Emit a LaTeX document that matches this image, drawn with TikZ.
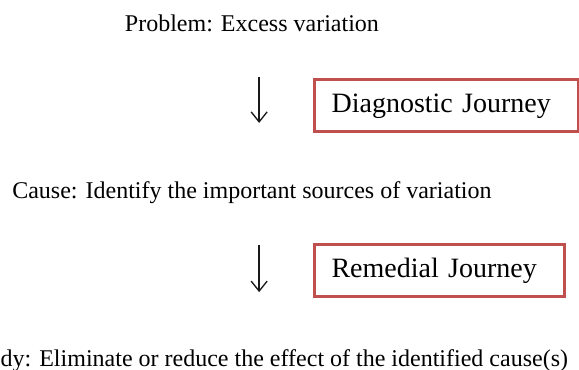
\documentclass[tikz,border=0pt]{standalone}
\usepackage{fontspec}
\setmainfont{Liberation Serif}
\usetikzlibrary{arrows.meta,positioning}
\definecolor{journeyred}{RGB}{192,80,77}

\begin{document}
\begin{tikzpicture}[
  stage/.style={anchor=base, inner sep=0pt, font=\fontsize{18}{22}\selectfont},
  journey/.style={anchor=west, draw=journeyred, line width=2.2pt,
    inner xsep=0.45cm, inner ysep=0pt, minimum height=1.37cm,
    align=left, font=\fontsize{21}{25}\selectfont},
  down/.style={line width=1pt, draw=black!90,
    -{Straight Barb[length=7.5pt,width=12pt,line width=1pt]}},
]
\useasboundingbox (0,0) rectangle (15.26,-9.75);
% stages of the problem
\node[stage] (prob) at (6.64,-0.84) {Problem: Excess variation};
\node[stage] (cause) at (6.64,-5.22)
  {Cause: Identify the important sources of variation};
\node[stage, anchor=base west] (rem) at (0.01,-9.65)
  {dy: Eliminate or reduce the effect of the identified cause(s)};
% journeys
\node[journey, text width=6.06cm] (diag) at (8.25,-2.79)
  {Diagnostic Journey};
\node[journey, text width=5.69cm] (remj) at (8.25,-7.14)
  {Remedial Journey};
% arrows
\coordinate (d1) at (6.83,-2.03);
\coordinate (d2) at (6.83,-3.24);
\coordinate (r1) at (6.83,-6.46);
\coordinate (r2) at (6.83,-7.70);
\draw[down] (d1) -- (d2);
\draw[down] (r1) -- (r2);
\end{tikzpicture}
\end{document}
